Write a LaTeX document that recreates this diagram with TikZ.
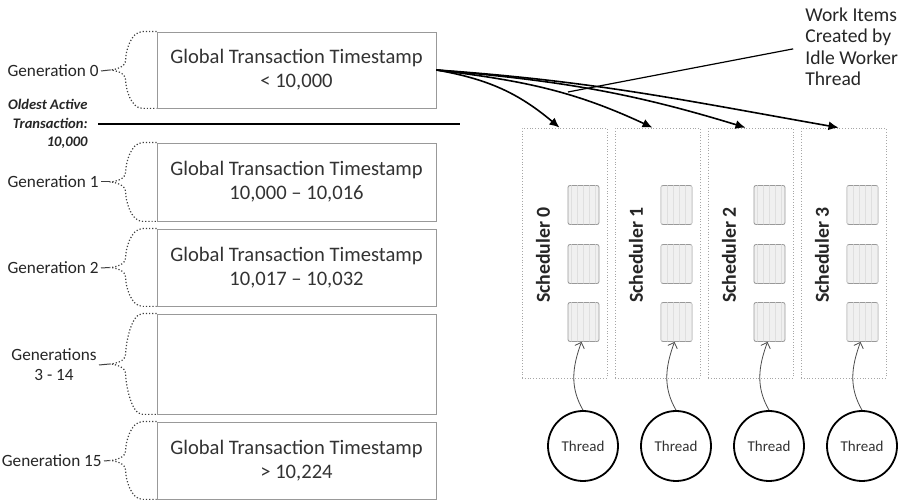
\documentclass[tikz,border=0pt]{standalone}
\usepackage{fontspec}
\setmainfont{Carlito}
\usetikzlibrary{shapes,arrows.meta,positioning,calc,patterns}

\tikzset{
  genbox/.style={draw=gray!80, minimum width=139.5pt, inner sep=0pt, align=center,
    font=\fontsize{10.3}{12}\selectfont, text=black!80},
  genlabel/.style={anchor=east, align=center, inner sep=1pt,
    font=\fontsize{8.6}{10}\selectfont, text=black!85},
  bracedot/.style={densely dotted, black!75, line width=0.6pt},
  schedbox/.style={draw=gray!70, densely dotted, minimum width=42.5pt, minimum height=125pt},
  itembox/.style={draw=gray!80, fill=gray!12, rounded corners=1pt, minimum width=15.5pt,
    minimum height=19.5pt, postaction={pattern=vertical lines, pattern color=gray!25}},
  threadnode/.style={circle, draw, line width=0.9pt, minimum size=35pt, inner sep=0pt,
    font=\fontsize{7.5}{9}\selectfont, text=black!80},
  workarrow/.style={-{Latex[length=5pt,width=4.5pt]}, line width=0.8pt},
  threadarrow/.style={-{Straight Barb[length=2.5pt]}, gray!60!black, line width=0.4pt},
}

% dotted brace left of a generation box, tip named <box>tip
\newcommand{\genbrace}[1]{%
  \coordinate (#1tip) at ($(#1.west)+(-47,0)$);
  \draw[bracedot] (#1.north west) -- ++(-14,0)
    .. controls +(-12,0) and +(0,8) .. ($(#1.west)+(-31,10)$)
    .. controls +(0,-7) and +(6,0) .. (#1tip)
    .. controls +(6,0) and +(0,7) .. ($(#1.west)+(-31,-10)$)
    .. controls +(0,-8) and +(-12,0) .. ($(#1.south west)+(-14,0)$)
    -- (#1.south west);}

\begin{document}
\begin{tikzpicture}[x=0.5pt, y=0.5pt]
  \useasboundingbox[fill=white] (0,0) rectangle (899,-501);

  % generation boxes
  \node[genbox, minimum height=38pt] (g0) at (296.5,-70) {Global Transaction Timestamp\\< 10,000};
  \node[genbox, minimum height=39pt] (g1) at (296.5,-182) {Global Transaction Timestamp\\10,000 -- 10,016};
  \node[genbox, minimum height=38.5pt] (g2) at (296.5,-267.5) {Global Transaction Timestamp\\10,017 -- 10,032};
  \node[genbox, minimum height=50pt] (g3) at (296.5,-364) {};
  \node[genbox, minimum height=38.5pt] (g15) at (296.5,-460.5) {Global Transaction Timestamp\\> 10,224};

  \foreach \g in {g0,g1,g2,g3,g15} {\genbrace{\g}}

  % generation labels
  \node[genlabel] (l0) at (101,-71) {Generation 0};
  \node[genlabel] (l1) at (101,-182) {Generation 1};
  \node[genlabel] (l2) at (101,-268) {Generation 2};
  \node[genlabel] (l3) at (99,-365) {Generations\\3 - 14};
  \node[genlabel] (l15) at (104,-461) {Generation 15};
  \foreach \l/\g in {l0/g0,l1/g1,l2/g2,l3/g3,l15/g15}
    \draw[black!75, line width=0.5pt] (\l.east) -- (\g tip);

  % oldest active transaction cut
  \node[anchor=east, align=right, inner sep=1pt, text=black!85,
    font=\bfseries\itshape\fontsize{7.3}{9.25}\selectfont] (oldest) at (90,-124)
    {Oldest Active\\Transaction:\\10,000};
  \coordinate (cutend) at (460,-124);
  \draw[line width=0.8pt, shorten <=4pt] (oldest) -- (cutend);

  % schedulers, work items and threads
  \foreach \i/\aout/\ain in {0/-10/140,1/-7/155,2/-5/163,3/-4/170} {
    \node[schedbox] (s\i) at ({564.5+93*\i},-253) {};
    \node[rotate=90, font=\bfseries\fontsize{9.9}{12}\selectfont, text=black!85]
      (sl\i) at ($(s\i)+(-21.5,-2)$) {Scheduler \i};
    \foreach \j/\y in {1/-205,2/-264,3/-322}
      \node[itembox] (item\i-\j) at ({583.5+93*\i},\y) {};
    \node[threadnode] (t\i) at ({583+93*\i},-446) {Thread};
    \draw[threadarrow] (t\i.north) to[out=120,in=-110] ($(item\i-3.south)+(-2,0)$);
    \draw[workarrow] (g0.east) to[out=\aout,in=\ain] ($(s\i.north)+(-5,0)$);
  }

  % idle worker annotation
  \node[anchor=west, align=left, inner sep=1pt, text=black!85,
    font=\fontsize{9.8}{10.75}\selectfont] (workitems) at (803,-47)
    {Work Items\\Created by\\Idle Worker\\Thread};
  \coordinate (wipoint) at (568,-92);
  \draw[line width=0.6pt, shorten >=5pt] (wipoint) -- (workitems.west);
\end{tikzpicture}
\end{document}
